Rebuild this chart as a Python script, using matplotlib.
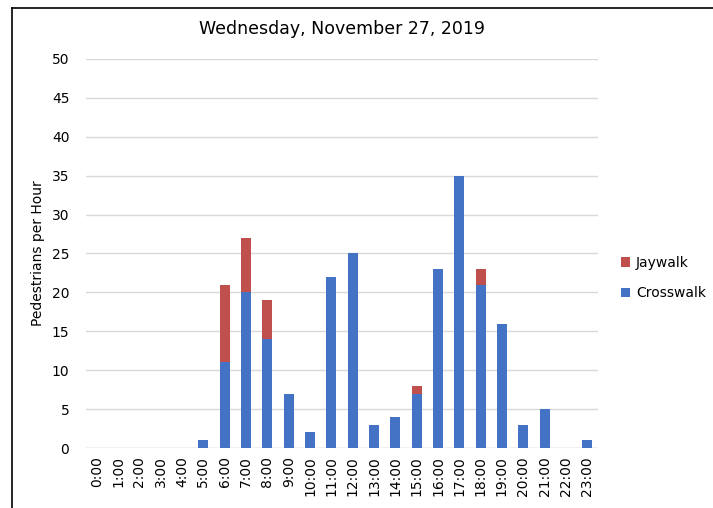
"""
Stacked bar chart of pedestrians per hour, crosswalk vs jaywalk.
"""
import matplotlib
matplotlib.use("Agg")
import matplotlib.pyplot as plt
from matplotlib.lines import Line2D
import numpy as np

hours = ["%d:00" % h for h in range(24)]
crosswalk = [0, 0, 0, 0, 0, 1, 11, 20, 14, 7, 2, 22, 25, 3, 4, 7, 23, 35, 21, 16, 3, 5, 0, 1]
jaywalk = [0, 0, 0, 0, 0, 0, 10, 7, 5, 0, 0, 0, 0, 0, 0, 1, 0, 0, 2, 0, 0, 0, 0, 0]

azul = "#4472C4"
rojo = "#C0504D"

fig = plt.figure(figsize=(7.13, 5.08), dpi=100)
ax = fig.add_axes([0.1206, 0.1181, 0.718, 0.7658])

x = np.arange(len(hours))
ax.bar(x, crosswalk, width=0.47, color=azul, label="Crosswalk", zorder=3)
ax.bar(x, jaywalk, width=0.47, bottom=crosswalk, color=rojo, label="Jaywalk", zorder=3)

ax.set_ylim(0, 50)
ax.set_xlim(-0.5, len(hours) - 0.5)
ax.set_yticks(range(0, 51, 5))
ax.set_xticks(x)
ax.set_xticklabels(hours, rotation=90)
ax.tick_params(axis="both", length=0, labelsize=10, colors="#000000")
ax.tick_params(axis="y", pad=12)
ax.tick_params(axis="x", pad=6)
ax.grid(axis="y", color="#D9D9D9", linewidth=1, zorder=0)
for s in ax.spines.values():
    s.set_visible(False)
ax.axhline(0, color="#D9D9D9", linewidth=1, zorder=1)

ax.set_ylabel("Pedestrians per Hour", fontsize=10, labelpad=5)
ax.set_title("Wednesday, November 27, 2019", fontsize=12.5, pad=18)

handles, labels = ax.get_legend_handles_labels()
ax.legend(handles[::-1], labels[::-1], loc="center left", bbox_to_anchor=(1.02, 0.437),
          frameon=False, fontsize=10, handlelength=0.7, handleheight=0.7,
          handletextpad=0.4, labelspacing=1.2)

# marco superior e izquierdo
fig.add_artist(Line2D([11.5 / 713, 11.5 / 713], [0, 1 - 7.5 / 508], color="black", linewidth=1.2))
fig.add_artist(Line2D([11.5 / 713, 1], [1 - 7.5 / 508, 1 - 7.5 / 508], color="black", linewidth=1.2))

fig.savefig("out.png", dpi=100)
